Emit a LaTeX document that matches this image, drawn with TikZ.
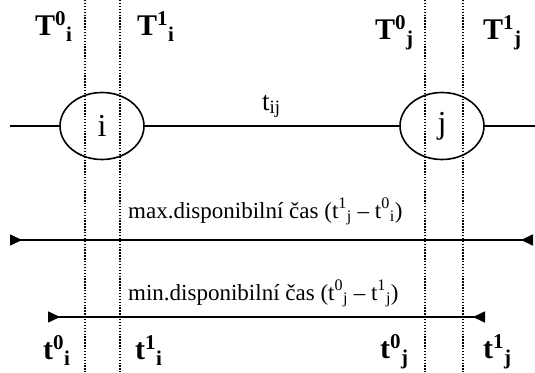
\documentclass[tikz,border=0pt]{standalone}
\usepackage{amsmath}
\usepackage{fontspec}
\setmainfont{Liberation Serif}
\usetikzlibrary{arrows.meta, positioning, shapes.geometric}
\newcommand{\tlab}[3]{#1$^{\text{#2}}{}_{\text{#3}}$}

\begin{document}
\begin{tikzpicture}[
    x=1pt, y=-1pt,
    uzel/.style={draw, ellipse, line width=1.6pt, minimum width=84pt, minimum height=67pt, inner sep=0pt, font=\fontsize{32}{34}\selectfont},
    bigT/.style={anchor=base west, inner sep=0pt, font=\fontsize{30}{32}\selectfont\bfseries},
    caption/.style={anchor=base west, inner sep=0pt, font=\fontsize{23}{26}\selectfont},
    guide/.style={line width=1.5pt, dash pattern=on 1.4pt off 1.5pt},
    edge/.style={line width=1.6pt},
    arr/.style={line width=1.6pt, {Triangle[length=12pt, width=11pt, reversed]}-{Triangle[length=12pt, width=11pt, reversed]}}
]
\useasboundingbox (0,0) rectangle (535,372);
\fill[white] (0,0) rectangle (535,372);

\coordinate (a0) at (85,0);   \coordinate (a1) at (85,372);
\coordinate (b0) at (120,0);  \coordinate (b1) at (120,372);
\coordinate (c0) at (425,0);  \coordinate (c1) at (425,372);
\coordinate (d0) at (463,0);  \coordinate (d1) at (463,372);
\draw[guide] (a0) -- (a1);
\draw[guide] (b0) -- (b1);
\draw[guide] (c0) -- (c1);
\draw[guide] (d0) -- (d1);

\node[bigT] (Ti0) at (35,35) {\tlab{T}{0}{i}};
\node[bigT] (Ti1) at (137,35) {\tlab{T}{1}{i}};
\node[bigT] (Tj0) at (375,39) {\tlab{T}{0}{j}};
\node[bigT] (Tj1) at (483,39) {\tlab{T}{1}{j}};

\node[uzel] (i) at (102,126) {i};
\node[uzel] (j) at (442,126) {j};
\coordinate (L) at (10,126);
\coordinate (R) at (535,126);
\draw[edge] (L) -- (i.west);
\draw[edge] (i.east) -- (j.west);
\draw[edge] (j.east) -- (R);
\node[caption, font=\fontsize{27}{29}\selectfont] (tij) at (262,110) {t$_{\text{ij}}$};

\node[caption] (maxcas) at (128,218) {max.disponibilní čas (\tlab{t}{1}{j} -- \tlab{t}{0}{i})};
\coordinate (M0) at (10,240);
\coordinate (M1) at (533,240);
\draw[arr] (M0) -- (M1);

\node[caption] (mincas) at (128,300) {min.disponibilní čas (\tlab{t}{0}{j} -- \tlab{t}{1}{j})};
\coordinate (N0) at (48,317);
\coordinate (N1) at (485,317);
\draw[arr] (N0) -- (N1);

\node[bigT] (ti0) at (43,359) {\tlab{t}{0}{i}};
\node[bigT] (ti1) at (135,359) {\tlab{t}{1}{i}};
\node[bigT] (tj0) at (380,358) {\tlab{t}{0}{j}};
\node[bigT] (tj1) at (483,358) {\tlab{t}{1}{j}};
\end{tikzpicture}
\end{document}
